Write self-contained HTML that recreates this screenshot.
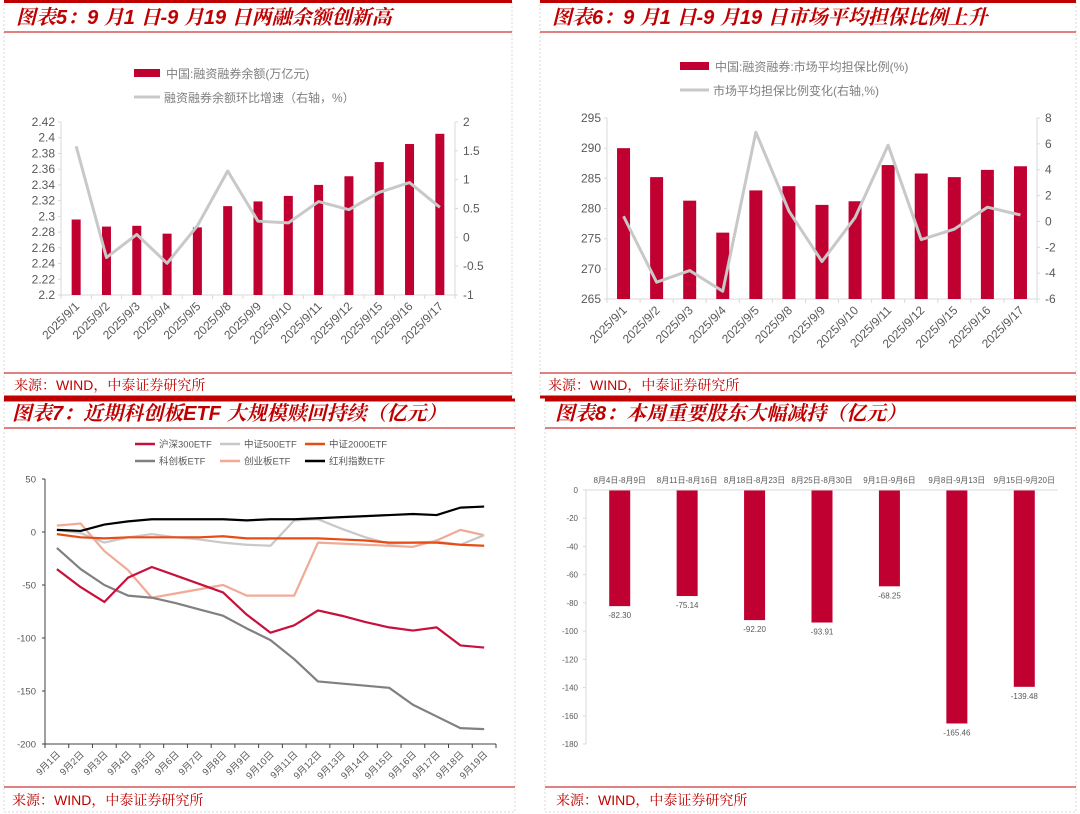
<!DOCTYPE html>
<html><head><meta charset="utf-8"><style>
html,body{margin:0;padding:0;background:#fff;}
svg{display:block;font-family:"Liberation Sans","Noto Sans CJK SC",sans-serif;}
.t{font-family:"Liberation Sans","Noto Serif CJK SC","Noto Sans CJK SC",sans-serif;font-style:italic;font-weight:bold;fill:#c00000;font-size:20px;}
.src{font-family:"Liberation Sans","Noto Serif CJK SC",sans-serif;fill:#c00000;font-size:14px;}
.ax{fill:#595959;font-size:12px;}
.sm{fill:#595959;font-size:8px;}
.md{fill:#595959;font-size:9.5px;}
.lg{fill:#7f7f7f;font-size:12px;}
</style></head><body>
<svg id="s" width="1080" height="814" viewBox="0 0 1080 814" xmlns="http://www.w3.org/2000/svg">
<g fill="none" stroke="#d9d9d9" stroke-dasharray="2,2">
<rect x="4" y="2" width="508" height="394"/><rect x="540" y="2" width="536" height="394"/>
<rect x="4" y="400" width="511" height="412"/><rect x="545" y="400" width="531" height="412"/>
</g>
<g stroke="#c00000">
<line x1="4" y1="1.5" x2="512" y2="1.5" stroke-width="3"/><line x1="4" y1="32" x2="512" y2="32"/>
<line x1="4" y1="373" x2="512" y2="373"/><line x1="4" y1="397" x2="512" y2="397" stroke-width="3"/>
<line x1="540" y1="1.5" x2="1076" y2="1.5" stroke-width="3"/><line x1="540" y1="32" x2="1076" y2="32"/>
<line x1="540" y1="373" x2="1076" y2="373"/><line x1="540" y1="397" x2="1076" y2="397" stroke-width="3"/>
<line x1="4" y1="400" x2="515" y2="400" stroke-width="3"/><line x1="4" y1="428" x2="515" y2="428"/>
<line x1="4" y1="787" x2="515" y2="787"/>
<line x1="545" y1="400" x2="1076" y2="400" stroke-width="3"/><line x1="545" y1="428" x2="1076" y2="428"/>
<line x1="545" y1="787" x2="1076" y2="787"/>
</g>
<text class="t" x="16" y="24">图表5：9 月1 日-9 月19 日两融余额创新高</text>
<text class="t" x="552" y="24">图表6：9 月1 日-9 月19 日市场平均担保比例上升</text>
<text class="t" x="12" y="420">图表7：近期科创板ETF 大规模赎回持续（亿元）</text>
<text class="t" x="555" y="420">图表8：本周重要股东大幅减持（亿元）</text>
<text class="src" x="14" y="390">来源：WIND，中泰证券研究所</text>
<text class="src" x="548" y="390">来源：WIND，中泰证券研究所</text>
<text class="src" x="12" y="805">来源：WIND，中泰证券研究所</text>
<text class="src" x="556" y="805">来源：WIND，中泰证券研究所</text>
</svg>
<script>
const dates5 = ["2025/9/1","2025/9/2","2025/9/3","2025/9/4","2025/9/5","2025/9/8","2025/9/9","2025/9/10","2025/9/11","2025/9/12","2025/9/15","2025/9/16","2025/9/17"];
const bal5 = [2.296,2.287,2.288,2.278,2.286,2.313,2.319,2.326,2.340,2.351,2.369,2.392,2.405];
const chg5 = [1.58,-0.35,0.05,-0.45,0.2,1.15,0.28,0.25,0.62,0.48,0.78,0.95,0.52];
const ticksL5 = [2.2,2.22,2.24,2.26,2.28,2.3,2.32,2.34,2.36,2.38,2.4,2.42];
const ticksR5 = [-1,-0.5,0,0.5,1,1.5,2];
const dates6 = dates5;
const ratio6 = [290,285.2,281.3,276,283,283.7,280.6,281.2,287.2,285.8,285.2,286.4,287];
const chg6 = [0.4,-4.7,-3.8,-5.4,6.9,0.8,-3.1,0.3,5.9,-1.4,-0.6,1.1,0.5];
const ticksL6 = [265,270,275,280,285,290,295];
const ticksR6 = [-6,-4,-2,0,2,4,6,8];
const days7 = ["9月1日","9月2日","9月3日","9月4日","9月5日","9月6日","9月7日","9月8日","9月9日","9月10日","9月11日","9月12日","9月13日","9月14日","9月15日","9月16日","9月17日","9月18日","9月19日"];
const hs300 = [-35,-52,-66,-43,-33,-41,-49,-57,-78,-95,-88,-74,-79,-85,-90,-93,-90,-107,-109];
const zz500 = [2,-1,-10,-5,-2,-5,-7,-10,-12,-13,11,12,3,-5,-11,-10,-9,-12,-3];
const zz2000 = [-2,-5,-6,-5,-5,-5,-5,-4,-6,-6,-6,-6,-7,-8,-10,-10,-10,-12,-13];
const kcb = [-15,-35,-50,-60,-62,-67,-73,-79,-91,-102,-120,-141,-143,-145,-147,-163,-174,-185,-186];
const cyb = [6,8,-18,-36,-62,-58,-54,-50,-60,-60,-60,-10,-11,-12,-13,-14,-8,2,-3];
const hongli = [2,1,7,10,12,12,12,12,11,12,12,13,14,15,16,17,16,23,24];
const ticks7 = [-200,-150,-100,-50,0,50];
const weeks8 = ["8月4日-8月9日","8月11日-8月16日","8月18日-8月23日","8月25日-8月30日","9月1日-9月6日","9月8日-9月13日","9月15日-9月20日"];
const cut8 = [-82.30,-75.14,-92.20,-93.91,-68.25,-165.46,-139.48];
const ticks8 = [0,-20,-40,-60,-80,-100,-120,-140,-160,-180];

const NS="http://www.w3.org/2000/svg", S=document.getElementById('s');
function el(tag,at,parent,txt){const e=document.createElementNS(NS,tag);for(const k in at)e.setAttribute(k,at[k]);if(txt!==undefined)e.textContent=txt;(parent||S).appendChild(e);return e;}
function lin(d0,d1,r0,r1){return v=>r0+(v-d0)*(r1-r0)/(d1-d0);}
const RED="#c00030";

function dualChart(p){
  const g=el('g',{});
  
  
  const n=p.cats.length, bw=(p.x1-p.x0)/n;
  const yL=lin(p.tL[0],p.tL[p.tL.length-1],p.yb,p.yt);
  const yR=lin(p.tR[0],p.tR[p.tR.length-1],p.yb,p.yt);
  const cx=i=>p.x0+bw*(i+0.5);
  el('line',{x1:p.x0,y1:p.yt,x2:p.x0,y2:p.yb,stroke:'#d9d9d9'},g);
  el('line',{x1:p.x1,y1:p.yt,x2:p.x1,y2:p.yb,stroke:'#d9d9d9'},g);
  el('line',{x1:p.x0,y1:p.yb,x2:p.x1,y2:p.yb,stroke:'#d9d9d9'},g);
  p.tL.forEach(t=>{const tx=el('text',{x:p.x0-6,y:yL(t)+4,'text-anchor':'end',class:'ax'},g,String(t));
    
    el('line',{x1:p.x0-3,y1:yL(t),x2:p.x0,y2:yL(t),stroke:'#d9d9d9'},g);});
  p.tR.forEach(t=>{const tx=el('text',{x:p.x1+8,y:yR(t)+4,class:'ax'},g,String(t));
    
    el('line',{x1:p.x1,y1:yR(t),x2:p.x1+3,y2:yR(t),stroke:'#d9d9d9'},g);});
  for(let i=0;i<=n;i++)el('line',{x1:p.x0+bw*i,y1:p.yb,x2:p.x0+bw*i,y2:p.yb+4,stroke:'#d9d9d9'},g);
  p.bars.forEach((v,i)=>{const r=el('rect',{x:cx(i)-p.bwid/2,y:yL(v),width:p.bwid,height:p.yb-yL(v),fill:RED},g);
    });
  const pl=el('polyline',{points:p.line.map((v,i)=>cx(i)+','+yR(v)).join(' '),fill:'none',stroke:'#c8c8c8','stroke-width':3,'stroke-linejoin':'round'},g);
  
  p.cats.forEach((c,i)=>{const x=cx(i)+4,y=p.yb+12;const tx=el('text',{x:x,y:y,'text-anchor':'end',class:'ax',transform:`rotate(-45 ${x} ${y})`},g,c);
    });
  const l1=el('rect',{x:p.lx,y:p.ly1-4,width:p.lsw,height:8,fill:RED},g);
  
  const t1=el('text',{x:p.lx+p.lsw+6,y:p.ly1+5,class:'lg'},g,p.leg1);
  
  const l2=el('line',{x1:p.lx,y1:p.ly2,x2:p.lx+p.lsw,y2:p.ly2,stroke:'#c8c8c8','stroke-width':3},g);
  
  const t2=el('text',{x:p.lx+p.lsw+4,y:p.ly2+5,class:'lg'},g,p.leg2);
  
}
dualChart({name:'chart5-margin-balance',cats:dates5,bars:bal5,line:chg5,tL:ticksL5,tR:ticksR5,x0:61,x1:455,yt:122,yb:295,bwid:9,lx:134,ly1:73,ly2:97,lsw:26,leg1:'中国:融资融券余额(万亿元)',leg2:'融资融券余额环比增速（右轴，%）'});
dualChart({name:'chart6-collateral-ratio',cats:dates6,bars:ratio6,line:chg6,tL:ticksL6,tR:ticksR6,x0:607,x1:1037,yt:118,yb:299,bwid:13,lx:680,ly1:66,ly2:90,lsw:29,leg1:'中国:融资融券:市场平均担保比例(%)',leg2:'市场平均担保比例变化(右轴,%)'});

// chart 7
(function(){
  const g=el('g',{});
  
  
  const x0=45,x1=496,yt=479,yb=744;
  const y=lin(-200,50,yb,yt), n=days7.length, bw=(x1-x0)/n, cx=i=>x0+bw*(i+0.5);
  el('line',{x1:x0,y1:yt,x2:x0,y2:yb,stroke:'#404040'},g);
  el('line',{x1:x0,y1:yb,x2:x1,y2:yb,stroke:'#404040'},g);
  ticks7.forEach(t=>{el('line',{x1:x0-3,y1:y(t),x2:x0,y2:y(t),stroke:'#404040'},g);
    const tx=el('text',{x:x0-9,y:y(t)+3.5,'text-anchor':'end',class:'md'},g,String(t));
    });
  for(let i=0;i<=n;i++)el('line',{x1:x0+bw*i,y1:yb,x2:x0+bw*i,y2:yb+4,stroke:'#404040'},g);
  days7.forEach((d,i)=>{const x=cx(i)+4,yy=yb+11;const tx=el('text',{x:x,y:yy,'text-anchor':'end',class:'md',transform:`rotate(-45 ${x} ${yy})`},g,d);
    });
  const series=[['沪深300ETF',hs300,'#c8103c'],['中证500ETF',zz500,'#c8c8c8'],['中证2000ETF',zz2000,'#e84c14'],['科创板ETF',kcb,'#808080'],['创业板ETF',cyb,'#f0aa96'],['红利指数ETF',hongli,'#000000']];
  [4,1,2,3,0,5].forEach(k=>{const s=series[k];
    const pl=el('polyline',{points:s[1].map((v,i)=>cx(i)+','+y(v)).join(' '),fill:'none',stroke:s[2],'stroke-width':2.2,'stroke-linejoin':'round'},g);
    });
  series.forEach((s,k)=>{const lx=[135,220,305][k%3],ly=k<3?444:461;
    const sw=el('line',{x1:lx,y1:ly,x2:lx+20,y2:ly,stroke:s[2],'stroke-width':2.5},g);
    
    const tx=el('text',{x:lx+24,y:ly+3.5,class:'md'},g,s[0]);
    });
})();

// chart 8
(function(){
  const g=el('g',{});
  
  
  const x0=586,x1=1058,y0=490,yb=744;
  const y=lin(0,-180,y0,yb), n=weeks8.length, bw=(x1-x0)/n, cx=i=>x0+bw*(i+0.5);
  el('line',{x1:x0,y1:y0,x2:x0,y2:yb,stroke:'#d9d9d9'},g);
  ticks8.forEach(t=>{el('line',{x1:x0-3,y1:y(t),x2:x0,y2:y(t),stroke:'#d9d9d9'},g);
    const tx=el('text',{x:x0-8,y:y(t)+3,'text-anchor':'end',class:'sm'},g,String(t));
    });
  cut8.forEach((v,i)=>{const r=el('rect',{x:cx(i)-10.5,y:y(0),width:21,height:y(v)-y(0),fill:RED},g);
    
    const tx=el('text',{x:cx(i),y:y(v)+12,'text-anchor':'middle',class:'sm'},g,v.toFixed(2));
    
    const c=el('text',{x:cx(i),y:483,'text-anchor':'middle',class:'sm'},g,weeks8[i]);
    });
  el('line',{x1:x0,y1:y0,x2:x1,y2:y0,stroke:'#d9d9d9'},g);
})();
</script>
</body></html>
